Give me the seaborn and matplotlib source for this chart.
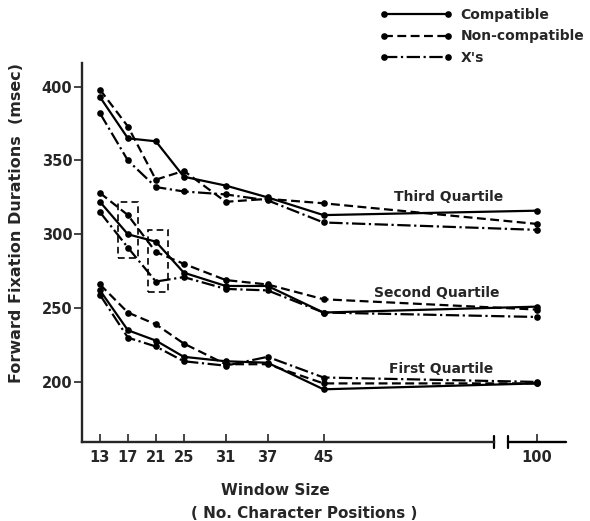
import numpy as np
import pandas as pd
import seaborn as sns
import matplotlib.pyplot as plt
from matplotlib.patches import Rectangle
import matplotlib.transforms as mtransforms

# window sizes (x) and forward fixation durations (msec)
window_sizes = [13, 17, 21, 25, 31, 37, 45, 100]
conditions = ["Compatible", "Non-compatible", "X's"]

third_compatible = [393, 365, 363, 339, 333, 325, 313, 316]
third_noncomp = [398, 373, 337, 343, 322, 324, 321, 307]
third_xs = [382, 350, 332, 329, 327, 323, 308, 303]

second_compatible = [322, 300, 295, 274, 265, 265, 247, 251]
second_noncomp = [328, 313, 288, 280, 269, 266, 256, 249]
second_xs = [315, 291, 268, 271, 263, 262, 247, 244]

first_compatible = [262, 235, 228, 217, 214, 213, 195, 199]
first_noncomp = [266, 247, 239, 226, 212, 212, 199, 199]
first_xs = [259, 230, 224, 214, 211, 217, 203, 200]

y_ticks = [200, 250, 300, 350, 400]

series = {
    ("Third", "Compatible"): third_compatible,
    ("Third", "Non-compatible"): third_noncomp,
    ("Third", "X's"): third_xs,
    ("Second", "Compatible"): second_compatible,
    ("Second", "Non-compatible"): second_noncomp,
    ("Second", "X's"): second_xs,
    ("First", "Compatible"): first_compatible,
    ("First", "Non-compatible"): first_noncomp,
    ("First", "X's"): first_xs,
}

rows = []
for (quart, cond), vals in series.items():
    for w, v in zip(window_sizes, vals):
        rows.append({"window": w, "duration": v, "condition": cond, "quartile": quart})
df = pd.DataFrame(rows)

sns.set_style("ticks")
plt.rcParams["font.family"] = ["DejaVu Sans"]

fig = plt.figure(figsize=(5.9, 5.21), dpi=100)
ax = fig.add_axes([0.139, 0.1516, 0.820, 0.7274])

sns.lineplot(data=df, x="window", y="duration", style="condition", units="quartile",
             estimator=None, style_order=conditions, markers={c: "o" for c in conditions},
             dashes={"Compatible": "", "Non-compatible": (4.0, 2.0), "X's": (6.0, 1.6, 1.0, 1.6)},
             color="black", linewidth=1.6, markersize=4.8, markeredgewidth=0, ax=ax)

# compress the x axis beyond 45 (broken axis)
k = 0.5558


def fwd(x):
    x = np.asarray(x, dtype=float)
    return np.where(x <= 45, x, 45 + (x - 45) * k)


def inv(x):
    x = np.asarray(x, dtype=float)
    return np.where(x <= 45, x, 45 + (x - 45) / k)


ax.set_xscale("function", functions=(fwd, inv))
ax.set_xlim(10.43, 107.4)
ax.set_ylim(159.3, 416)
ax.set_xticks(window_sizes)
ax.set_xticklabels([str(w) for w in window_sizes])
ax.set_yticks(y_ticks)
ax.tick_params(axis="x", direction="in", length=6, width=1.2, pad=6, labelsize=10.5)
ax.tick_params(axis="y", direction="out", length=6, width=1.2, pad=1, labelsize=10.5)
for lab in ax.get_xticklabels() + ax.get_yticklabels():
    lab.set_fontweight("bold")

sns.despine(ax=ax)
brk_lo, brk_hi = 88.95, 92.55
ax.spines["left"].set_linewidth(1.7)
ax.spines["bottom"].set_linewidth(1.7)
ax.spines["bottom"].set_bounds(10.43, brk_lo)
trans = mtransforms.blended_transform_factory(ax.transData, ax.transAxes)
ax.plot([brk_hi, 107.4], [0, 0], color="black", lw=1.7, transform=trans, clip_on=False)
for xb in (brk_lo, brk_hi):
    ax.plot([xb, xb], [-0.017, 0.017], color="black", lw=1.6, transform=trans, clip_on=False)

# dashed boxes around 17 and 21 in the second quartile
ax.add_patch(Rectangle((15.6, 284), 2.8, 38, fill=False, ls=(0, (4, 2.5)), lw=1.2, ec="black"))
ax.add_patch(Rectangle((19.9, 261), 2.8, 42, fill=False, ls=(0, (4, 2.5)), lw=1.2, ec="black"))

# quartile labels
for txt, xf, yv in [("Third Quartile", 0.758, 325.4), ("Second Quartile", 0.734, 260.5),
                    ("First Quartile", 0.743, 208.5)]:
    ax.text(xf, yv, txt, transform=mtransforms.blended_transform_factory(ax.transAxes, ax.transData),
            ha="center", va="center", fontsize=10, fontweight="bold")

ax.set_ylabel("Forward Fixation Durations  (msec)", fontsize=11.5, fontweight="bold")
ax.yaxis.set_label_coords(-0.12, 0.578)
ax.set_xlabel("Window Size", fontsize=11, fontweight="bold", va="center")
ax.xaxis.set_label_coords(0.399, -0.127)
fig.text(304 / 590, 1 - 513 / 521, "( No. Character Positions )", ha="center", va="center",
         fontsize=11, fontweight="bold")

handles, labels = ax.get_legend_handles_labels()
leg = ax.legend(handles, labels, loc="upper left", bbox_to_anchor=(0.644, 0.985),
                bbox_transform=fig.transFigure, frameon=False, numpoints=2, handlelength=5.2,
                handletextpad=0.6, labelspacing=0.55, borderpad=0, borderaxespad=0,
                prop={"size": 10, "weight": "bold"})

fig.savefig("out.png", dpi=100)
